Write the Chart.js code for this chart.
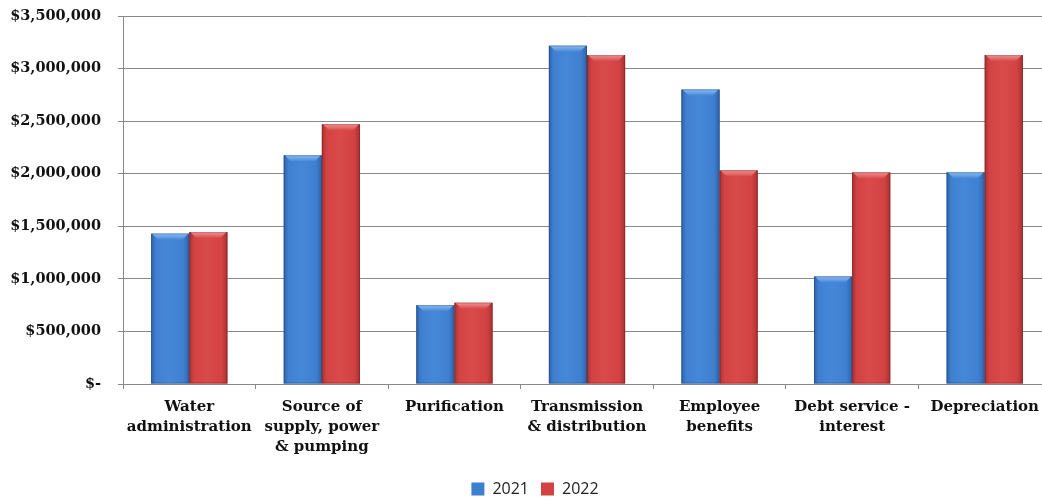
<!DOCTYPE html>
<html>
<head>
<meta charset="utf-8">
<script src="https://cdn.jsdelivr.net/npm/chart.js@4"></script>
<style>
    html, body { margin: 0; padding: 0; background: #fff; overflow: hidden; }
    #wrap { width: 1070px; height: 507px; }
</style>
</head>
<body>
<div id="wrap"><canvas id="costChart" width="1070" height="507"></canvas></div>
<script>
/* Koszty wg kategorii 2021 vs 2022 */

const categoryLabels = [
    ['Water', 'administration'],
    ['Source of', 'supply, power', '& pumping'],
    ['Purification'],
    ['Transmission', '& distribution'],
    ['Employee', 'benefits'],
    ['Debt service -', 'interest'],
    ['Depreciation']
];
const seriesNames = ['2021', '2022'];
const values2021 = [1430000, 2175000, 750000, 3217000, 2800000, 1022000, 2013000];
const values2022 = [1445000, 2470000, 772000, 3128000, 2031000, 2012000, 3128000];
const yTicks = { min: 0, max: 3500000, step: 500000 };

const palette = {
    blue: { base: '#3f7fd0', edge: '#2f62a8', mid: '#4688d8', light: '#8fbcf2' },
    red: { base: '#d24242', edge: '#a83131', mid: '#d94a4a', light: '#f29494' }
};

function formatDollar(v) {
    if (v === 0) return '$-';
    return '$' + v.toLocaleString('en-US');
}

// cylinder-ish shading and bevel on top of the bars the library placed
const bevelBars = {
    id: 'bevelBars',
    afterDatasetsDraw(chart) {
        const ctx = chart.ctx;
        chart.data.datasets.forEach((ds, di) => {
            const meta = chart.getDatasetMeta(di);
            const col = ds._shade;
            meta.data.forEach((bar) => {
                const { x, y, base, width } = bar.getProps(['x', 'y', 'base', 'width'], true);
                const left = x - width / 2;
                const h = base - y;
                ctx.save();
                const g = ctx.createLinearGradient(left, 0, left + width, 0);
                g.addColorStop(0, col.edge);
                g.addColorStop(0.12, col.base);
                g.addColorStop(0.45, col.mid);
                g.addColorStop(0.85, col.base);
                g.addColorStop(1, col.edge);
                ctx.fillStyle = g;
                ctx.fillRect(left, y, width, h);
                // top bevel
                const bev = Math.min(6, h);
                const tg = ctx.createLinearGradient(0, y, 0, y + bev);
                tg.addColorStop(0, col.light);
                tg.addColorStop(1, col.mid);
                ctx.fillStyle = tg;
                ctx.beginPath();
                ctx.moveTo(left + 1, y);
                ctx.lineTo(left + width - 1, y);
                ctx.lineTo(left + width - 7, y + bev);
                ctx.lineTo(left + 7, y + bev);
                ctx.closePath();
                ctx.fill();
                ctx.strokeStyle = 'rgba(0,0,0,0.18)';
                ctx.lineWidth = 1;
                ctx.strokeRect(left + 0.5, y + 0.5, width - 1, h - 1);
                ctx.restore();
            });
        });
    }
};

// legenda: przesunięcie o połowę prawego marginesu, żeby była na środku jak w Excelu
const legendShift = {
    id: 'legendShift',
    afterUpdate(chart) {
        const lg = chart.legend;
        if (!lg) return;
        const dx = chart.options.layout.padding.right / 2;
        lg.left += dx;
        lg.right += dx;
        lg.adjustHitBoxes();
    }
};

const chart = new Chart(document.getElementById('costChart').getContext('2d'), {
    type: 'bar',
    data: {
        labels: categoryLabels,
        datasets: [
            { label: seriesNames[0], data: values2021, backgroundColor: palette.blue.base, _shade: palette.blue },
            { label: seriesNames[1], data: values2022, backgroundColor: palette.red.base, _shade: palette.red }
        ]
    },
    options: {
        responsive: false,
        animation: false,
        devicePixelRatio: 1,
        layout: { padding: { top: 16, right: 19, bottom: 0, left: 0 } },
        datasets: { bar: { categoryPercentage: 0.575, barPercentage: 1 } },
        scales: {
            x: {
                afterFit: (scale) => { scale.height = 85; },
                grid: { drawOnChartArea: false, tickLength: 5, color: '#888', offset: true },
                border: { color: '#888' },
                ticks: {
                    color: '#111',
                    font: { family: 'DejaVu Serif', weight: 'bold', size: 15, lineHeight: 1.33 },
                    padding: 8,
                    maxRotation: 0,
                    autoSkip: false
                }
            },
            y: {
                min: yTicks.min,
                max: yTicks.max,
                afterFit: (scale) => { scale.width = 123; },
                // długi tick z kreską tylko na ostatnich 5 px -> etykiety dalej od osi
                grid: { color: '#888', tickLength: 22, tickBorderDash: [5, 17], tickBorderDashOffset: 5 },
                border: { color: '#888' },
                ticks: {
                    stepSize: yTicks.step,
                    color: '#111',
                    padding: 0,
                    font: { family: 'DejaVu Serif', weight: 'bold', size: 14.5 },
                    callback: (v) => formatDollar(v)
                }
            }
        },
        plugins: {
            legend: {
                position: 'bottom',
                labels: {
                    boxWidth: 13,
                    boxHeight: 13,
                    padding: 12,
                    color: '#222',
                    font: { family: 'Open Sans', size: 16 }
                }
            },
            tooltip: { enabled: false }
        }
    },
    plugins: [bevelBars, legendShift]
});
</script>
</body>
</html>
